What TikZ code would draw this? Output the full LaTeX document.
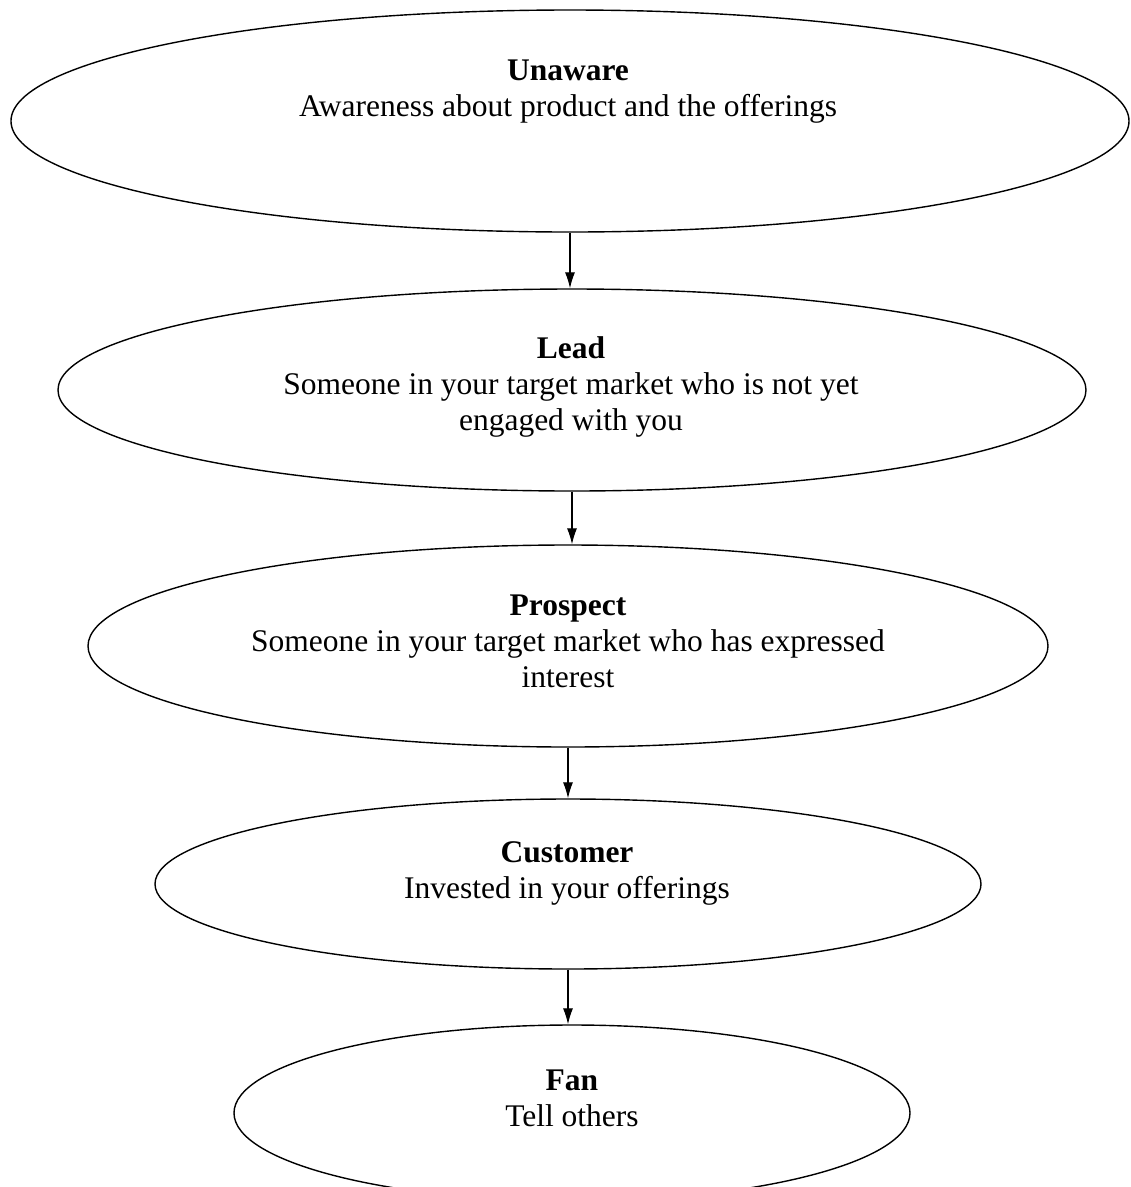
\documentclass[tikz,border=0pt]{standalone}
\usepackage{fontspec}
\setmainfont{Liberation Serif}
\usetikzlibrary{arrows.meta,shapes.geometric}
\begin{document}
\begin{tikzpicture}[x=1pt,y=-1pt,
  stage/.style={draw=black, line width=1.4pt, ellipse, inner sep=0pt, fill=none},
  txt/.style={align=center, font=\fontsize{31.5}{36}\selectfont, inner sep=0pt},
  flow/.style={line width=1.1pt, -{Latex[length=16pt,width=10pt]}}]
\useasboundingbox (0,0) rectangle (1131,1187);
\clip (0,0) rectangle (1131,1187);
\fill[white] (0,0) rectangle (1131,1187);
\node[stage, minimum width=1118pt, minimum height=222pt] (e1) at (570,121) {};
\node[stage, minimum width=1028pt, minimum height=202pt] (e2) at (572,390) {};
\node[stage, minimum width=960pt, minimum height=202pt] (e3) at (568,646) {};
\node[stage, minimum width=826pt, minimum height=170pt] (e4) at (568,884) {};
\node[stage, minimum width=676pt, minimum height=176pt] (e5) at (572,1113) {};
\node[txt] (t1) at (568,92) {\textbf{Unaware}\\Awareness about product and the offerings};
\node[txt] (t2) at (571,387) {\textbf{Lead}\\Someone in your target market who is not yet\\engaged with you};
\node[txt] (t3) at (568,641) {\textbf{Prospect}\\Someone in your target market who has expressed\\interest};
\node[txt] (t4) at (567,873) {\textbf{Customer}\\Invested in your offerings};
\node[txt] (t5) at (572,1098) {\textbf{Fan}\\Tell others};
\draw[flow] (e1.south) -- (e1.south |- e2.north);
\draw[flow] (e2.south) -- (e2.south |- e3.north);
\draw[flow] (e3.south) -- (e3.south |- e4.north);
\draw[flow] (e4.south) -- (e4.south |- e5.north);
\end{tikzpicture}
\end{document}
